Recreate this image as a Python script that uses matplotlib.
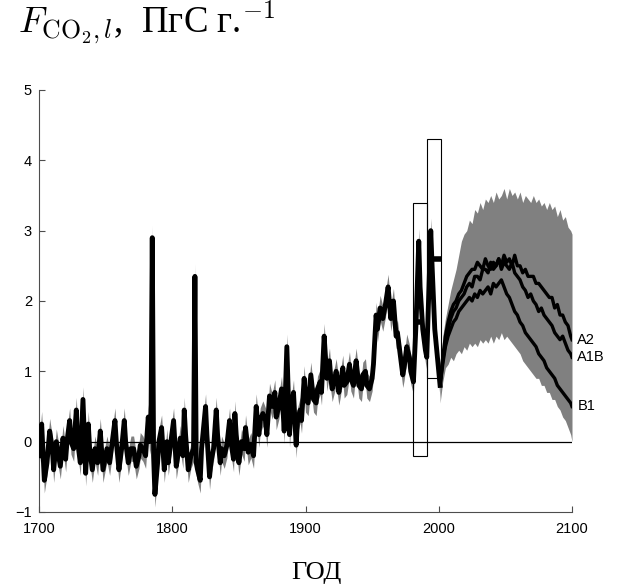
import numpy as np
import matplotlib.pyplot as plt
from matplotlib.patches import Rectangle

# historical land flux (black line), PgC/yr
hist_years = [1700, 1702, 1704, 1706, 1708, 1710, 1711, 1713, 1716, 1718, 1720, 1721, 1723, 1724,
              1726, 1728, 1729, 1731, 1733, 1735, 1737, 1738, 1740, 1742, 1744, 1746, 1748, 1750,
              1751, 1753, 1755, 1757, 1758, 1760, 1762, 1764, 1765, 1767, 1769, 1771, 1773, 1775,
              1776, 1778, 1780, 1782, 1783, 1784, 1785, 1786, 1787, 1789, 1790, 1792, 1794, 1796,
              1797, 1799, 1801, 1803, 1805, 1806, 1808, 1809, 1810, 1812, 1814, 1816, 1817, 1818,
              1819, 1821, 1822, 1823, 1825, 1826, 1828, 1829, 1831, 1833, 1834, 1836, 1837, 1839,
              1841, 1843, 1844, 1846, 1847, 1848, 1850, 1852, 1854, 1855, 1857, 1859, 1861, 1863,
              1865, 1866, 1868, 1870, 1871, 1873, 1875, 1877, 1878, 1880, 1882, 1883, 1884, 1886,
              1888, 1889, 1891, 1893, 1894, 1896, 1897, 1899, 1900, 1902, 1904, 1906, 1908, 1909,
              1911, 1912, 1914, 1916, 1918, 1919, 1920, 1922, 1923, 1925, 1926, 1928, 1929, 1931,
              1933, 1934, 1936, 1937, 1938, 1940, 1942, 1943, 1945, 1946, 1948, 1950, 1951, 1953,
              1954, 1956, 1958, 1960, 1962, 1964, 1966, 1968, 1969, 1971, 1973, 1974, 1976, 1978,
              1979, 1981, 1983, 1985, 1986, 1988, 1990, 1991, 1994, 1995, 1997, 1999, 2001]
hist_flux = [-0.2, 0.25, -0.55, -0.3, 0.15, -0.1, -0.4, 0.0, -0.35, 0.05, -0.25, 0.0, 0.3, 0.0,
             -0.1, 0.45, 0.0, -0.3, 0.6, -0.45, 0.25, -0.1, -0.4, -0.1, -0.3, 0.15, -0.4, -0.2,
             -0.1, -0.3, 0.0, 0.3, 0.0, -0.4, -0.1, 0.3, 0.0, -0.3, -0.1, -0.1, -0.35, -0.2,
             -0.05, -0.1, -0.2, 0.35, 0.0, 0.1, 2.9, -0.2, -0.75, -0.3, 0.0, 0.2, -0.4, 0.0,
             -0.3, 0.0, 0.3, -0.35, -0.1, 0.05, -0.2, 0.45, 0.1, -0.4, -0.2, -0.1, 2.35, -0.3,
             -0.4, -0.55, -0.1, 0.1, 0.5, 0.1, -0.5, -0.3, -0.1, 0.45, 0.1, -0.3, -0.1, -0.2,
             -0.05, 0.3, 0.0, -0.25, 0.4, 0.1, -0.3, 0.0, -0.1, 0.2, -0.15, -0.05, -0.2, 0.5,
             0.1, 0.3, 0.4, 0.3, 0.1, 0.65, 0.5, 0.7, 0.35, 0.5, 0.75, 0.5, 0.15, 1.35,
             0.1, 0.4, 0.7, -0.05, 0.3, 0.45, 0.3, 0.9, 0.6, 0.55, 0.95, 0.6, 0.55, 0.75,
             0.85, 0.7, 1.5, 0.9, 1.15, 0.9, 0.75, 0.9, 1.0, 0.7, 0.8, 1.05, 0.8, 0.85,
             1.1, 0.9, 0.8, 1.0, 1.15, 0.8, 0.75, 0.95, 1.0, 0.8, 0.75, 0.9, 1.1, 1.8,
             1.6, 1.9, 1.75, 1.95, 2.2, 1.75, 2.0, 1.5, 1.55, 1.25, 0.95, 1.05, 1.35, 1.2,
             1.0, 0.85, 1.7, 2.85, 2.2, 1.6, 1.3, 1.2, 3.0, 2.5, 1.6, 1.2, 0.8]
hist_unc = 0.18

# scenario projections
fut_years = [2001, 2003, 2005, 2007, 2009, 2011, 2013, 2015, 2017, 2019, 2021, 2023, 2025,
             2027, 2029, 2031, 2033, 2035, 2037, 2039, 2041, 2043, 2045, 2047, 2049, 2051,
             2053, 2055, 2057, 2059, 2061, 2063, 2065, 2067, 2069, 2071, 2073, 2075, 2077,
             2079, 2081, 2083, 2085, 2087, 2089, 2091, 2093, 2095, 2097, 2099, 2100]
a2 = [0.8, 1.15, 1.4, 1.6, 1.75, 1.85, 1.9, 2.0, 2.05, 2.1, 2.2, 2.25, 2.2,
      2.35, 2.35, 2.3, 2.45, 2.45, 2.4, 2.55, 2.45, 2.5, 2.6, 2.5, 2.65, 2.55,
      2.6, 2.5, 2.65, 2.5, 2.5, 2.4, 2.45, 2.35, 2.35, 2.35, 2.25, 2.25, 2.2,
      2.15, 2.1, 2.05, 2.05, 1.9, 1.95, 1.8, 1.8, 1.7, 1.65, 1.5, 1.45]
a1b = [0.8, 1.2, 1.5, 1.7, 1.85, 1.95, 2.0, 2.1, 2.15, 2.25, 2.35, 2.4, 2.45,
       2.45, 2.55, 2.5, 2.45, 2.6, 2.5, 2.45, 2.55, 2.5, 2.6, 2.45, 2.55, 2.5,
       2.45, 2.55, 2.4, 2.35, 2.3, 2.2, 2.15, 2.05, 2.1, 2.0, 1.95, 1.85, 1.9,
       1.8, 1.75, 1.7, 1.65, 1.55, 1.5, 1.45, 1.5, 1.4, 1.3, 1.25, 1.2]
b1 = [0.8, 1.1, 1.35, 1.5, 1.6, 1.7, 1.75, 1.85, 1.9, 1.95, 2.0, 2.05, 2.0,
      2.1, 2.05, 2.15, 2.1, 2.15, 2.2, 2.1, 2.25, 2.2, 2.25, 2.3, 2.2, 2.1,
      2.05, 1.95, 1.85, 1.8, 1.7, 1.65, 1.55, 1.5, 1.45, 1.4, 1.35, 1.25, 1.2,
      1.15, 1.05, 1.0, 0.95, 0.9, 0.8, 0.75, 0.7, 0.65, 0.6, 0.55, 0.5]
band_hi = [0.9, 1.5, 1.75, 1.95, 2.15, 2.3, 2.45, 2.65, 2.85, 2.95, 3.0, 3.15, 3.1,
           3.3, 3.25, 3.4, 3.3, 3.45, 3.4, 3.5, 3.4, 3.55, 3.45, 3.5, 3.6, 3.45,
           3.6, 3.5, 3.55, 3.45, 3.55, 3.4, 3.5, 3.45, 3.4, 3.5, 3.4, 3.45, 3.35,
           3.4, 3.3, 3.4, 3.3, 3.35, 3.2, 3.3, 3.15, 3.2, 3.05, 3.0, 2.95]
band_lo = [0.55, 0.85, 1.05, 1.1, 1.2, 1.15, 1.25, 1.3, 1.25, 1.35, 1.3, 1.4, 1.35,
           1.4, 1.35, 1.45, 1.4, 1.45, 1.4, 1.5, 1.4, 1.5, 1.45, 1.55, 1.45, 1.5,
           1.45, 1.4, 1.35, 1.3, 1.25, 1.15, 1.1, 1.05, 1.0, 0.95, 0.9, 0.9, 0.8,
           0.8, 0.7, 0.7, 0.6, 0.6, 0.5, 0.45, 0.35, 0.3, 0.2, 0.1, 0.0]

# decadal budget estimates
dec_start = [1980.5, 1991.0]
dec_end = [1991.0, 2001.5]
dec_low = [-0.2, 0.9]
dec_high = [3.4, 4.3]
dec_mean = [1.7, 2.6]
dec_mean_end = [1986.0, 2001.5]

scen_names = ['A2', 'A1B', 'B1']
scen_label_y = [1.45, 1.2, 0.5]

plt.rcParams['font.family'] = ['Liberation Sans', 'DejaVu Sans']
plt.rcParams['mathtext.fontset'] = 'cm'

fig = plt.figure(figsize=(6.25, 5.87), dpi=100)
ax = fig.add_axes([0.0624, 0.1278, 0.8528, 0.7189])

hy = np.array(hist_years)
hf = np.array(hist_flux)
ax.fill_between(hy, hf - hist_unc, hf + hist_unc, color='0.5', lw=0, zorder=1)
ax.fill_between(fut_years, band_lo, band_hi, color='0.5', lw=0, zorder=1)
ax.axhline(0, color='black', lw=0.9, zorder=2)

ax.plot(hy, hf, color='black', lw=3.5, zorder=3)
for s in [a2, a1b, b1]:
    ax.plot(fut_years, s, color='black', lw=2.4, zorder=3)

for i in range(len(dec_start)):
    ax.add_patch(Rectangle((dec_start[i], dec_low[i]), dec_end[i] - dec_start[i],
                           dec_high[i] - dec_low[i], fill=False, ec='black', lw=0.8, zorder=4))
    ax.plot([dec_start[i], dec_mean_end[i]], [dec_mean[i], dec_mean[i]],
            color='black', lw=4, solid_capstyle='butt', zorder=4)

for name, y in zip(scen_names, scen_label_y):
    ax.text(2104, y, name, fontsize=10.5, va='center', ha='left')

ax.set_xlim(1700, 2100)
ax.set_ylim(-1, 5)
ax.set_xticks([1700, 1800, 1900, 2000, 2100])
ax.set_yticks([-1, 0, 1, 2, 3, 4, 5])
ax.spines['top'].set_visible(False)
ax.spines['right'].set_visible(False)
for sp in ['left', 'bottom']:
    ax.spines[sp].set_color('0.3')
    ax.spines[sp].set_linewidth(0.8)
ax.tick_params(direction='in', length=4, width=0.8, color='0.3', labelsize=10.5)
ax.tick_params(axis='x', pad=7)
ax.tick_params(axis='y', pad=5)

fig.text(0.029, 0.943, r'$F_{\mathrm{CO_2},l}$,  ПгС г.$^{-1}$', fontsize=26.5,
         family=['Liberation Serif', 'DejaVu Serif'], ha='left', va='baseline')
fig.text(0.506, 0.013, 'ГОД', fontsize=19, family=['Liberation Serif', 'DejaVu Serif'],
         ha='center', va='baseline')

fig.savefig('out.png', dpi=100)
